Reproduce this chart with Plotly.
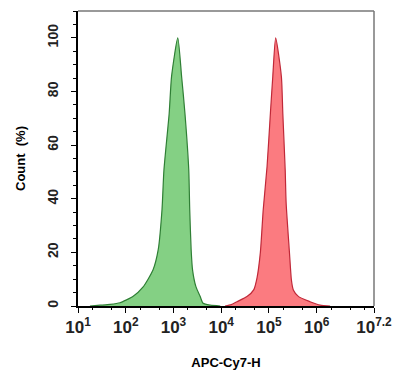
import plotly.graph_objects as go

# Green population (intensity, count %)
green_x = [17.8, 29, 47, 76, 107, 141, 229, 372, 479, 575, 631, 813, 912, 1230,
           1479, 1738, 2089, 2188, 2344, 2512, 2951, 3631, 4169, 5888, 9550]
green_y = [0, 0.3, 0.6, 1.2, 2.4, 3.5, 7, 13.4, 21, 36, 50.7, 71.9, 85.6, 100,
           85.6, 71.9, 50.7, 36, 21, 13.4, 7.2, 3.5, 1.0, 0.3, 0]

# Red population (intensity, count %)
red_x = [12023, 16218, 21380, 34674, 47863, 56234, 66069, 75858, 91201, 107152,
         120226, 138038, 181970, 194984, 218776, 229087, 269153, 295121, 323594,
         416869, 724436, 1174898, 1905461]
red_y = [0, 0.5, 1.6, 3.5, 6, 10.5, 20, 36, 52, 71.9, 85.6, 100, 85.6, 71.9,
         50.7, 38.3, 19.7, 9.7, 6, 3.5, 1.6, 0.3, 0]

x_tickvals = [1e1, 1e2, 1e3, 1e4, 1e5, 1e6, 10 ** 7.2]
x_ticktext = ["10<sup>1</sup>", "10<sup>2</sup>", "10<sup>3</sup>", "10<sup>4</sup>",
              "10<sup>5</sup>", "10<sup>6</sup>", "10<sup>7.2</sup>"]
y_tickvals = [0, 20, 40, 60, 80, 100]

FONT = "Arial, Liberation Sans, sans-serif"

fig = go.Figure()
fig.add_trace(go.Scatter(x=green_x, y=green_y, mode="lines", fill="tozeroy",
                         line=dict(color="#2f7f35", width=1.2, shape="spline",
                                   smoothing=0.6),
                         fillcolor="rgba(110,200,110,0.85)", showlegend=False))
fig.add_trace(go.Scatter(x=red_x, y=red_y, mode="lines", fill="tozeroy",
                         line=dict(color="#c02838", width=1.2, shape="spline",
                                   smoothing=0.6),
                         fillcolor="rgba(250,105,110,0.88)", showlegend=False))

fig.update_layout(
    width=394, height=374,
    margin=dict(l=78, r=20, t=11, b=68),
    paper_bgcolor="white", plot_bgcolor="white",
    font=dict(family=FONT, color="black"),
    xaxis=dict(type="log", range=[1, 7.2], tickvals=x_tickvals, ticktext=x_ticktext,
               automargin=False,
               showgrid=False, zeroline=False, showline=True, linecolor="black",
               linewidth=1.5, ticks="outside", ticklen=5, tickwidth=1.2,
               tickcolor="black",
               tickfont=dict(size=17, family=FONT, weight="bold", color="#222222"),
               minor=dict(ticks="outside", ticklen=2.5, tickcolor="black",
                          showgrid=False),
               title=dict(text="APC-Cy7-H", standoff=22,
                          font=dict(size=13, family=FONT, weight="bold"))),
    yaxis=dict(range=[0, 110], tickvals=y_tickvals, showgrid=False, zeroline=False,
               automargin=False,
               showline=True, linecolor="black", linewidth=1.5, ticks="outside",
               ticklen=5, tickwidth=1.2, tickcolor="black", tickangle=-90,
               ticklabelstandoff=8,
               tickfont=dict(size=14, family=FONT, weight="bold", color="#222222"),
               minor=dict(ticks="outside", ticklen=3, dtick=5, tickcolor="black",
                          showgrid=False),
               title=dict(text="Count  (%)", standoff=16,
                          font=dict(size=13, family=FONT, weight="bold"))),
    shapes=[
        dict(type="line", xref="paper", yref="paper", x0=0, x1=1, y0=1, y1=1,
             line=dict(color="#777777", width=1.5)),
        dict(type="line", xref="paper", yref="paper", x0=1, x1=1, y0=0, y1=1,
             line=dict(color="#777777", width=1.5)),
    ],
)

fig.write_html("out.html")
